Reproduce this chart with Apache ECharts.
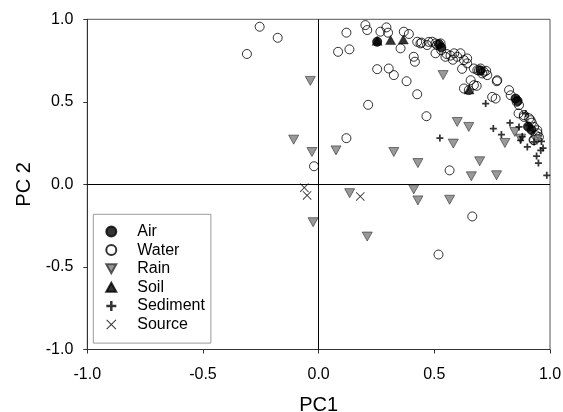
<!DOCTYPE html>
<html>
<head>
<meta charset="utf-8">
<script src="https://cdn.jsdelivr.net/npm/echarts@6/dist/echarts.min.js"></script>
<style>
html,body{margin:0;padding:0;background:#fff;}
#chart{width:563px;height:412px;}
</style>
</head>
<body>
<div id="chart"></div>
<script>
// ---- data ----
var seriesNames = ['Air', 'Water', 'Rain', 'Soil', 'Sediment', 'Source'];
var xTicks = [-1.0, -0.5, 0.0, 0.5, 1.0];
var yTicks = [-1.0, -0.5, 0.0, 0.5, 1.0];

var air = [[0.253,0.864],[0.52,0.85],[0.53,0.83],[0.70,0.69],[0.851,0.52],[0.86,0.505],[0.905,0.35],[0.92,0.33]];

var water = [[-0.31,0.79],[-0.255,0.955],[-0.177,0.888],[-0.02,0.11],[0.12,0.28],[0.214,0.482],[0.084,0.803],[0.133,0.818],
[0.12,0.919],[0.202,0.965],[0.21,0.935],[0.253,0.698],[0.303,0.702],[0.325,0.662],[0.38,0.625],[0.426,0.546],[0.466,0.413],
[0.566,0.085],[0.664,-0.194],[0.518,-0.425],[0.267,0.925],[0.293,0.951],[0.3,0.919],[0.354,0.824],[0.368,0.925],[0.39,0.911],
[0.411,0.773],[0.416,0.743],[0.426,0.864],[0.44,0.854],[0.469,0.844],[0.491,0.864],[0.505,0.854],[0.512,0.844],[0.527,0.854],
[0.505,0.794],[0.548,0.773],[0.586,0.794],[0.599,0.773],[0.613,0.794],[0.628,0.753],[0.642,0.733],[0.642,0.763],[0.671,0.702],
[0.686,0.692],[0.7,0.702],[0.714,0.682],[0.729,0.662],[0.707,0.672],[0.657,0.631],[0.628,0.581],[0.671,0.601],[0.649,0.571],
[0.772,0.631],[0.75,0.53],[0.765,0.52],[0.823,0.571],[0.83,0.54],[0.866,0.48],[0.887,0.409],[0.916,0.389],[0.931,0.348],
[0.945,0.328],[0.938,0.298],[0.931,0.268],[0.952,0.287],[0.53,0.813],[0.553,0.79],[0.57,0.78],[0.62,0.70],[0.693,0.69],
[0.724,0.688],[0.77,0.625],[0.856,0.50],[0.864,0.43],[0.887,0.42],[0.91,0.40],[0.921,0.374],[0.946,0.31],[0.929,0.27],
[0.445,0.859],[0.476,0.863],[0.58,0.755],[0.683,0.597]];

var rain = [[-0.036,0.627],[-0.108,0.271],[-0.029,0.196],[-0.024,-0.229],[0.075,0.206],[0.134,-0.053],[0.21,-0.316],
[0.325,0.196],[0.429,0.129],[0.411,-0.03],[0.429,-0.097],[0.538,0.662],[0.582,0.247],[0.566,-0.093],[0.599,0.378],
[0.649,0.348],[0.66,0.049],[0.696,0.14],[0.769,0.055],[0.805,0.251],[0.848,0.318],[0.873,0.277],[0.944,0.269]];

var soil = [[0.253,0.87],[0.311,0.874],[0.366,0.878],[0.65,0.575]];

var sediment = [[0.722,0.49],[0.524,0.281],[0.755,0.338],[0.79,0.302],[0.827,0.372],[0.866,0.348],[0.873,0.267],[0.88,0.29],
[0.895,0.429],[0.909,0.358],[0.902,0.227],[0.931,0.257],[0.942,0.172],[0.95,0.129],[0.96,0.206],[0.97,0.22],[0.963,0.26],[0.986,0.055]];

var source = [[-0.062,-0.02],[-0.05,-0.067],[0.18,-0.073]];

// ---- chart ----
var FONT = '"Liberation Sans", Arial, sans-serif';
var PLUS = 'path://M3,0H5V3H8V5H5V8H3V5H0V3H3Z';
var CROSS = 'path://M0,0.7L0.7,0L5,4.3L9.3,0L10,0.7L5.7,5L10,9.3L9.3,10L5,5.7L0.7,10L0,9.3L4.3,5Z';
var DOWN = 'path://M0,0L10,0L5,9Z';
var UP = 'path://M5,0L10,9L0,9Z';

var chart = echarts.init(document.getElementById('chart'), null, {renderer: 'canvas'});

function axisCommon(name, gap, rot) {
  return {
    type: 'value', min: -1, max: 1, interval: 0.5,
    name: name, nameLocation: 'middle', nameGap: gap, nameRotate: rot,
    nameTextStyle: {fontFamily: FONT, fontSize: 20, color: '#000'},
    axisLine: {show: true, onZero: false, lineStyle: {color: '#333', width: 1}},
    axisTick: {show: true, inside: false, length: 4, lineStyle: {color: '#333', width: 1}},
    axisLabel: {fontFamily: FONT, fontSize: 16, color: '#000', formatter: function (v) { return v.toFixed(1); }},
    splitLine: {show: false}
  };
}

var xAxis = axisCommon('PC1', 45.5, 0);
xAxis.axisLabel.margin = 17;
var yAxis = axisCommon('PC 2', 52.5, 90);
yAxis.axisLabel.margin = 14;

var option = {
  animation: false,
  backgroundColor: '#fff',
  grid: {left: 87.3, right: 13, top: 19.3, bottom: 62.5, outerBoundsMode: 'none', containLabel: false,
         show: true, borderColor: '#555', borderWidth: 1, backgroundColor: 'transparent'},
  xAxis: xAxis,
  yAxis: yAxis,
  legend: {
    data: [
      {name: 'Air', icon: 'circle'},
      {name: 'Water', icon: 'circle'},
      {name: 'Rain', icon: DOWN},
      {name: 'Soil', icon: UP},
      {name: 'Sediment', icon: PLUS},
      {name: 'Source', icon: CROSS}
    ],
    orient: 'vertical',
    left: 93.3, top: 214.3,
    padding: [9.2, 6, 10.6, 12],
    itemWidth: 10, itemHeight: 10, itemGap: 2.6,
    borderColor: '#999', borderWidth: 1,
    textStyle: {fontFamily: FONT, fontSize: 16, color: '#000', padding: [0, 0, 0, 16]}
  },
  series: [
    {name: 'Air', type: 'scatter', data: air, symbol: 'circle', symbolSize: 9,
     itemStyle: {color: '#000', borderColor: '#000', borderWidth: 1}, z: 2,
     markLine: {silent: true, symbol: 'none', label: {show: false},
       lineStyle: {color: '#000', width: 1, type: 'solid'}, emphasis: {disabled: true},
       data: [{xAxis: 0}, {yAxis: 0}]}},
    {name: 'Water', type: 'scatter', data: water, symbol: 'circle', symbolSize: 9,
     itemStyle: {color: 'rgba(255,255,255,0)', borderColor: '#000', borderWidth: 1}, z: 3},
    {name: 'Rain', type: 'scatter', data: rain, symbol: DOWN, symbolSize: [10, 9],
     itemStyle: {color: '#808080', borderColor: '#333', borderWidth: 0.8}, z: 4},
    {name: 'Soil', type: 'scatter', data: soil, symbol: UP, symbolSize: [10, 9],
     itemStyle: {color: '#000', borderColor: '#000', borderWidth: 0.5}, z: 5},
    {name: 'Sediment', type: 'scatter', data: sediment, symbol: PLUS, symbolSize: 7,
     itemStyle: {color: '#000'}, z: 6},
    {name: 'Source', type: 'scatter', data: source, symbol: CROSS, symbolSize: 9,
     itemStyle: {color: '#000'}, z: 6}
  ]
};
chart.setOption(option);
</script>
</body>
</html>
